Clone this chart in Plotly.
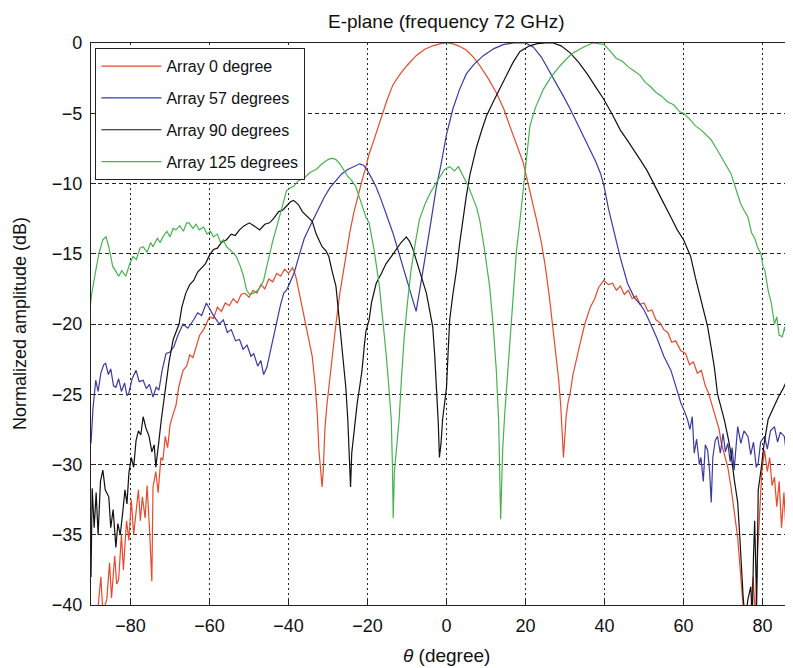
import plotly.graph_objects as go

# ---------------- data ----------------
red_theta = [-88.5,-87.5,-87,-86,-85.3,-84.8,-84,-83.5,-83,-82.3,-81.8,-81,-80.4,-79.8,-79.2,-78.6,-78,-77.5,-77,-76.3,-75.8,-75.2,-74.6,-74.3,-73.6,-73,-72.3,-71.8,-71.2,-70.6,-70,-69.2,-68.5,-67.8,-66.7,-65.8,-65,-64.2,-63.4,-62.5,-61.5,-60.5,-60,-59,-58,-57,-56,-55,-54,-53,-52,-51,-50,-49,-48,-47,-46,-45,-44,-43,-42,-41,-40,-39,-38.5,-38,-37.3,-36.6,-35.5,-34.5,-34,-33.2,-32.7,-32.3,-31.8,-31.5,-31.2,-30.8,-30.3,-29.8,-29,-28,-27,-26,-25.5,-24.5,-23.5,-22.5,-21.5,-20.4,-19.6,-18.5,-17.5,-16.2,-15,-13.6,-12,-10,-7.7,-5.5,-3.5,-1.5,0,1.5,3,5,6.8,8.4,10.5,12.7,14.5,16,17.8,19.4,20.3,21.5,22.8,24,25,26,26.8,27.6,28.4,28.9,29.3,29.6,29.9,30.3,30.8,31.3,32,33,33.8,35,36.4,37.5,38.5,39.8,41,42,43,44,45,46,47,48,49,50,51,52,53,54,55,56,57,58,59.3,60.5,61.5,62.5,63.5,64.5,65.5,66.3,67,68,69,69.5,70.5,71.2,72,72.8,73.7,74.2,74.6,75.2,76,77,77.6,78.2,78.8,79.3,79.8,80.5,81.2,81.8,82.4,83,83.6,84.2,84.8,85.4,86,86.5,87,87.6,88.3,89]
red_db = [-41,-38,-40.5,-39.6,-37,-39.5,-36.5,-38.5,-38.2,-35,-37.5,-34,-35.4,-32.5,-35,-33.5,-31.8,-34,-32.3,-33.8,-31.5,-34.5,-38.3,-31.6,-30.5,-32,-29.5,-29.7,-28,-28.8,-27.2,-26.4,-25.8,-24.5,-23.3,-23.0,-22.2,-22.4,-21.6,-20.8,-20.4,-19.8,-19.5,-19.6,-18.8,-19.1,-18.5,-18.7,-18.2,-18.5,-17.9,-17.8,-18.1,-17.6,-17.8,-17.2,-17.5,-16.8,-17.0,-16.4,-16.6,-16.1,-16.4,-16.0,-16.3,-16.8,-17.8,-18.8,-20.2,-21.6,-22.3,-24.5,-26.5,-29,-30.5,-31.6,-30.4,-27.5,-25.8,-24.5,-22.2,-20,-17.8,-16,-15,-13.5,-12.1,-10.9,-9.9,-8.8,-7.9,-7,-6.1,-5,-4,-3.0,-2.3,-1.6,-0.9,-0.45,-0.2,-0.05,0,-0.05,-0.2,-0.5,-1.0,-1.6,-2.5,-3.6,-4.7,-5.9,-7.2,-8.5,-9.6,-11,-12.6,-14.2,-15.9,-18,-20,-22,-24,-25.8,-28,-29.5,-28.2,-26.5,-25.5,-24.9,-23.6,-22.3,-21.4,-20,-18.8,-18.2,-17.4,-16.9,-17.2,-17.1,-17.6,-17.3,-17.9,-17.6,-18.2,-18.0,-18.6,-18.5,-19.1,-19.0,-19.7,-19.9,-20.4,-20.6,-21.3,-21.2,-21.9,-22.1,-22.9,-22.7,-23.5,-23.3,-24.4,-24.9,-25.6,-26.5,-27.5,-28.4,-29.5,-30.2,-31.6,-33.5,-35.2,-37,-38.7,-40.5,-41,-40.5,-38,-41,-36,-33,-30.5,-29,-30.5,-29.5,-31.5,-30.9,-33,-31.2,-34.5,-32,-35,-32.7,-36,-33.5,-35,-34]

blue_theta = [-90,-89.5,-88.8,-88.2,-87.5,-86.8,-86.3,-85.6,-85,-84.3,-83.7,-83,-82.3,-81.5,-80.9,-80.4,-79.6,-78.6,-77.8,-76.8,-76,-75.2,-74.3,-73.5,-72.8,-72,-71,-70,-69,-68,-66.7,-65.5,-64,-63,-62,-60.8,-60,-59,-57.5,-56.5,-55.5,-54.5,-53.4,-52.4,-51.5,-50.5,-49.5,-48.8,-47.8,-47,-46.3,-45.5,-44.8,-43.8,-43,-42,-41.2,-40.5,-39.7,-38.5,-37.4,-36,-34.5,-34,-32.5,-31,-29.5,-28,-26.5,-25,-23.5,-22,-21,-20,-19,-17.9,-16.5,-15,-13.6,-12,-10.3,-9,-7.7,-6.8,-6,-5.1,-4,-2.6,-1.5,0,1.6,3.3,5,7,9.3,12,14.5,17,20,22,24,26.2,28,29.6,31.3,33,34.7,36.4,37.7,39,39.8,41,42.4,44,45.8,47.5,49,50,51.5,53.4,55,56.8,58,59.3,60.2,61,61.6,62.2,62.7,63.3,64,64.4,65,65.5,66.1,66.6,67,67.4,68,68.6,69.3,70,70.6,71.2,71.8,72.3,72.8,73.3,73.7,74.5,75.3,76.3,77,77.7,78.4,78.9,79.5,80.5,81.2,82,83,83.8,84.5,85.5,86.2,87,88,89]
blue_db = [-28.5,-26,-24,-24.8,-23.5,-22.9,-22.8,-23.6,-23.2,-24.4,-24.5,-23.9,-24.8,-24.2,-25.1,-24.9,-23.9,-23.3,-24.1,-24.0,-24.6,-24.3,-25.2,-24.5,-24.7,-23.3,-22.1,-22.0,-21.6,-20.8,-20,-20.3,-19.7,-19.2,-19.4,-18.5,-18.9,-19.4,-20,-19.7,-20.6,-20.4,-21.2,-21.1,-21.8,-21.5,-22.3,-22.1,-23,-22.6,-23.6,-23.1,-22.2,-20.9,-19.8,-18.6,-17.8,-17.6,-17.1,-16.3,-15.2,-13.9,-13,-12.7,-11.8,-11,-10.3,-9.8,-9.3,-9.0,-8.8,-8.6,-8.7,-9.1,-9.6,-10.2,-11.2,-12.4,-13.5,-15,-16.6,-17.8,-19.1,-17.6,-16.1,-14.7,-12.8,-10.3,-8.8,-6.5,-4.7,-3.3,-2.2,-1.5,-0.9,-0.4,-0.1,0,0,-0.3,-1,-2.1,-2.9,-3.8,-4.7,-5.7,-6.6,-7.6,-8.4,-9.3,-10.1,-11.8,-13.5,-15.3,-17.1,-18.1,-18.6,-19,-19.9,-21.1,-22.3,-23.3,-24.4,-25.6,-26.2,-26.8,-27.5,-26.6,-29.2,-28.2,-30,-29.5,-31.2,-28.6,-29,-30.5,-32.7,-29.5,-28.3,-28,-29.2,-27.8,-29.1,-28.5,-29.8,-28.8,-30.4,-28.5,-27.3,-28.5,-27.6,-28,-29.3,-28.4,-30.2,-29.9,-28.4,-28,-28.9,-27.6,-27.3,-28.4,-27.7,-28,-29.6,-28.8,-29.2,-30]

black_theta = [-90,-89.7,-89.2,-88.7,-88.2,-87.6,-87,-86.4,-85.5,-85,-84.4,-83.7,-83.2,-82.6,-82,-81.4,-80.9,-80.4,-79.8,-79.2,-78.6,-78,-77.4,-76.8,-76.1,-75.3,-74.6,-74,-73.6,-73.2,-72.8,-72.2,-71.6,-71,-70.3,-69.2,-68.4,-67.7,-67,-66,-65,-64,-63,-62,-61,-60,-59,-58,-57,-55.7,-54.5,-53.5,-52.4,-51.2,-49.9,-48.8,-47.3,-46,-44.8,-43.8,-42.5,-41.5,-40.5,-39.5,-38.7,-37.5,-36.5,-35.5,-34.5,-34,-33,-32,-31.5,-30.5,-29.8,-29,-28,-27.4,-26.8,-26.2,-25.5,-25,-24.6,-24.3,-24,-23.5,-22.9,-22.6,-22,-21.4,-20.8,-20.4,-19.6,-19,-18.5,-17.8,-16.5,-15.3,-14,-12.7,-11.5,-10.2,-9.4,-8.6,-7.8,-6.9,-6,-5.1,-4.3,-3.5,-3,-2.5,-2.1,-1.8,-1.4,-1,-0.5,0,0.4,0.8,1.6,2.5,3.3,4.1,5,5.9,6.7,7.6,8.8,10.1,11.8,13.5,15,16.8,18.6,21,23,25,27,29,31.3,33.5,35.6,37.7,39.8,42,44,45.7,47.4,49,50.8,52.5,54.6,56.8,58.4,60,61.8,63,64.4,65.3,66.1,67,67.8,68.6,69.5,70.3,71.2,72,72.8,73.7,74.2,74.6,75.1,75.6,76.3,77,77.4,77.7,78,78.5,78.9,79.6,80.4,81.4,82.5,84,85.2,86.5,87.5,88.5,89]
black_db = [-38,-31.7,-34.5,-32,-35,-31.2,-30.4,-31.8,-32.3,-34.5,-33.2,-35.9,-34.2,-35,-33.5,-31.8,-32.8,-30.6,-29.5,-30.2,-28.3,-27.6,-27.9,-26.6,-27.4,-28,-29.1,-28.6,-30.2,-29.4,-28.3,-26.8,-25.4,-24,-22.8,-21.1,-20.5,-20,-18.8,-17.8,-17.2,-16.9,-16.3,-16.0,-15.7,-15.1,-14.7,-14.6,-14.2,-14.0,-13.6,-13.7,-13.3,-13.0,-12.8,-13.0,-13.3,-12.9,-12.8,-12.5,-12.0,-11.9,-11.6,-11.3,-11.2,-11.5,-12.0,-12.3,-12.6,-12.7,-13.6,-14.2,-14.5,-14.8,-15.2,-16.2,-17.3,-19,-20.9,-22.6,-24.5,-26.8,-29.5,-31.6,-29.2,-27.8,-26.4,-25.6,-24.5,-23.3,-21.5,-20.5,-19.7,-18.5,-17.9,-17.1,-16.4,-15.7,-15.2,-14.7,-14.2,-13.8,-14.1,-14.6,-15.3,-16.2,-17,-17.8,-19,-20.2,-22.2,-24.5,-27,-29.5,-28.5,-26.8,-25.6,-24.5,-22,-19.7,-17.9,-16.2,-14.3,-12.6,-10.9,-9.4,-8.4,-7.4,-6.3,-5.2,-4.2,-3.3,-2.4,-1.4,-0.6,-0.2,-0.05,0,0,-0.2,-0.7,-1.4,-2.2,-3.1,-4.0,-5.1,-6.2,-6.9,-7.6,-8.3,-9.1,-10,-11.2,-12.4,-13.3,-14,-15.2,-16.7,-18.3,-19.3,-20.2,-21.7,-23.1,-25,-25.9,-26.8,-28,-29.2,-31,-32.7,-35,-37.5,-39.5,-41,-39.6,-38.7,-40.8,-36.5,-34,-40,-31.8,-30.4,-28.5,-26.8,-26.1,-25.2,-24.6,-23.8,-23.5,-23.0,-22.5]

green_theta = [-90.5,-89.8,-88.8,-88,-87,-86.2,-85.5,-84.5,-83.8,-83,-82.2,-81.2,-80.3,-79.4,-78.5,-77.6,-76.8,-75.8,-74.9,-74.3,-73.2,-72.5,-71.8,-70.8,-70,-69.2,-68.5,-67.5,-66.6,-65.8,-65.2,-64.2,-63.4,-62.6,-61.5,-60.6,-59.8,-59,-58,-57.2,-56.5,-55.7,-54.5,-53.2,-52.2,-51.4,-50.6,-49.8,-48.8,-47.8,-47,-46.3,-45.5,-44.8,-44,-43,-41.8,-40.5,-39.5,-38.7,-37.5,-36,-34.5,-33,-31.5,-30,-29,-28,-27,-26,-25,-24,-23,-21.8,-20.4,-19.6,-18.3,-17,-16.2,-15.3,-14.6,-14,-13.7,-13.5,-13.2,-12.6,-12,-11.4,-10.7,-9.9,-9,-8,-6.9,-5.5,-4,-2.7,-1.8,-0.5,0.8,2,3,4.1,5.5,6.5,7.6,8.4,9.5,10.9,11.8,12.6,13.2,13.7,14.2,14.7,15.2,16,16.9,17.7,18.6,19.8,20.5,21.1,22.5,24.5,26.5,28.8,31.5,34.6,37,39.8,41.5,43,44.5,46,47.5,49,50.3,51.6,53,54.5,56,57.5,59,60,61.5,63,64.5,66,67,68.5,70,71,72,72.8,73.6,74.4,75.3,76.3,77.2,78,78.8,79.6,80.1,80.6,81.4,82.2,83,83.6,84.2,85,85.6,86.3,87,88,89]
green_db = [-19.5,-17.8,-16.2,-15,-14,-13.8,-14.5,-15.9,-16.2,-16.6,-16.2,-16.6,-15.8,-15.2,-15.4,-14.6,-14.5,-14.9,-14.2,-14.5,-13.9,-14.2,-13.8,-13.4,-13.8,-13.2,-13.3,-13,-13.4,-12.8,-12.8,-13.2,-12.9,-13.3,-13.1,-13.6,-13.4,-13.8,-13.6,-14.2,-14.0,-14.5,-14.8,-15.2,-15.9,-16.6,-17.6,-17.9,-17.8,-17.6,-17.3,-16.9,-15.9,-15,-14.1,-13.1,-11.8,-10.5,-10.3,-10.2,-9.8,-9.6,-9.2,-9.0,-8.6,-8.3,-8.2,-8.3,-8.6,-9.1,-9.5,-9.8,-10.2,-11.2,-12.4,-12.8,-14.8,-17.3,-19.5,-22.1,-24.5,-26.8,-30,-33.8,-30.5,-28.5,-26.8,-23.8,-20.9,-18.5,-16.2,-14.4,-12.6,-11.5,-10.6,-10.0,-9.6,-9.0,-8.8,-9.1,-8.8,-9.4,-10.2,-10.9,-11.7,-12.6,-14.5,-17.3,-20.1,-23.3,-27,-33.9,-29,-26.5,-24.5,-21,-17.3,-14.8,-12.6,-9.5,-7.5,-5.9,-4.6,-3.3,-2.4,-1.6,-0.8,-0.3,0,-0.1,-0.6,-1.1,-1.3,-1.7,-2.0,-2.3,-2.8,-3.1,-3.5,-3.8,-4.2,-4.4,-4.9,-5.0,-5.4,-5.9,-6.2,-6.6,-6.9,-7.6,-8.3,-8.8,-9.3,-10,-10.7,-11.4,-11.9,-12.4,-13.5,-13.9,-14.6,-15,-15.9,-16.2,-17.6,-18.5,-20,-19.5,-20.8,-20.9,-20.2,-21.5,-21.0,-21.4,-22]

series_names = ["Array 0 degree", "Array 57 degrees", "Array 90 degrees", "Array 125 degrees"]
x_ticks = [-80, -60, -40, -20, 0, 20, 40, 60, 80]
y_ticks = [0, -5, -10, -15, -20, -25, -30, -35, -40]

# ---------------- figure ----------------
colors = ["#e8492c", "#3a3aa6", "#111111", "#47b350"]
xs = [red_theta, blue_theta, black_theta, green_theta]
ys = [red_db, blue_db, black_db, green_db]

FONT = "Liberation Sans, Arial, sans-serif"
fig = go.Figure()
for i in range(4):
    fig.add_trace(go.Scatter(x=xs[i], y=ys[i], mode="lines", name=series_names[i],
                             legendgroup=str(i),
                             line=dict(color=colors[i], width=1.2)))

axis_common = dict(showline=True, linecolor="#222", linewidth=1.2, ticks="inside",
                   ticklen=5, tickcolor="#222", showgrid=True, gridcolor="#222",
                   gridwidth=1, zeroline=False,
                   tickfont=dict(family=FONT, size=18, color="#111"))

# the page body adds an 8 px offset, so the figure is sized 785 x 660
fig.update_layout(
    width=785, height=660,
    margin=dict(l=83, r=0, t=35, b=63),
    paper_bgcolor="white", plot_bgcolor="white",
    font=dict(family=FONT, color="#111"),
    xaxis=dict(range=[-90, 87.7], tickvals=x_ticks, mirror=True, griddash="2px,3px",
               ticklabelstandoff=4, **axis_common),
    yaxis=dict(range=[-40, 0], tickvals=y_ticks, mirror=False, griddash="4px,3px",
               ticklabelstandoff=4, **axis_common),
    legend=dict(x=0.006, y=0.991, xanchor="left", yanchor="top",
                bgcolor="white", bordercolor="#222", borderwidth=1.2,
                font=dict(family=FONT, size=16, color="#111"),
                traceorder="grouped", tracegroupgap=8, itemwidth=60),
    showlegend=True,
)

fig.add_annotation(text="E-plane (frequency 72 GHz)", xref="x", x=0, yref="paper", y=1,
                   yshift=22, showarrow=False, yanchor="middle",
                   font=dict(family=FONT, size=19, color="#111"))
fig.add_annotation(text="<i>θ</i> (degree)", xref="x", x=0, yref="paper", y=0,
                   yshift=-50, showarrow=False, yanchor="middle",
                   font=dict(family=FONT, size=19, color="#111"))
fig.add_annotation(text="Normalized amplitude (dB)", xref="paper", x=0, xshift=-71,
                   yref="paper", y=0.5, showarrow=False, textangle=-90,
                   xanchor="center", yanchor="middle",
                   font=dict(family=FONT, size=18, color="#111"))

fig.write_html("out.html")
